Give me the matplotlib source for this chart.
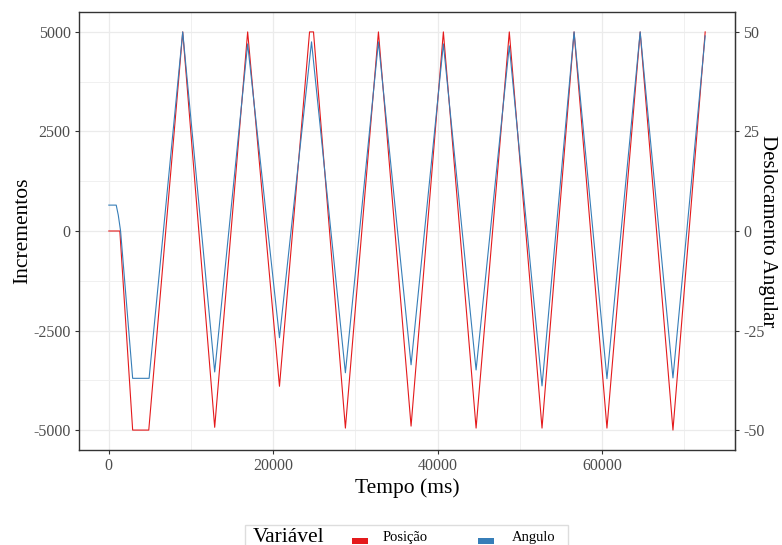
import matplotlib.pyplot as plt
from matplotlib.patches import Rectangle
from matplotlib.ticker import MultipleLocator

# tempo (ms) e valores
t_pos = [0, 1340, 2900, 4860, 8990, 12880, 16890, 20760, 24420, 24900, 28780,
         32800, 36770, 40700, 44680, 48720, 52700, 56600, 60600, 64640, 68630, 72550]
posicao = [0, 0, -5000, -5000, 5000, -4930, 5000, -3900, 5000, 5000, -4950,
           5000, -4900, 5000, -4950, 5000, -4950, 5000, -4950, 5000, -5000, 5000]

t_ang = [0, 900, 1150, 1430, 2900, 4900, 8990, 12880, 16890, 20760, 24660, 28780,
         32800, 36770, 40700, 44680, 48720, 52700, 56600, 60600, 64640, 68630, 72550]
angulo = [650, 650, 400, 0, -3700, -3700, 5000, -3540, 4700, -2680, 4750, -3560,
          4750, -3360, 4700, -3490, 4650, -3890, 5000, -3710, 5000, -3690, 4900]

series = ['Posição', 'Angulo']
cores = ['#E41A1C', '#377EB8']
escala = 100  # incrementos por grau

plt.rcParams['font.family'] = ['Liberation Serif', 'DejaVu Serif']
plt.rcParams['axes.unicode_minus'] = False

fig = plt.figure(figsize=(7.82, 5.45), dpi=100)
ax = fig.add_axes([79/782, 1-450/545, (735-79)/782, (450-12)/545])

ax.plot(t_pos, posicao, color=cores[0], lw=0.8, zorder=3)
ax.plot(t_ang, angulo, color=cores[1], lw=0.8, zorder=4)

xmax = max(t_pos)
ax.set_xlim(-0.05*xmax, 1.05*xmax)
ax.set_ylim(-5500, 5500)

ax.xaxis.set_major_locator(MultipleLocator(20000))
ax.xaxis.set_minor_locator(MultipleLocator(10000))
ax.yaxis.set_major_locator(MultipleLocator(2500))
ax.yaxis.set_minor_locator(MultipleLocator(1250))
ax.grid(which='major', color='#EBEBEB', lw=0.9)
ax.grid(which='minor', color='#F0F0F0', lw=0.7)
ax.set_axisbelow(True)

for s in ax.spines.values():
    s.set_color('#333333')
    s.set_linewidth(1.0)

ax.tick_params(which='major', length=3, width=0.8, color='#333333',
               labelcolor='#4D4D4D', labelsize=11.5, pad=3)
ax.tick_params(which='minor', length=0)

ax.set_xlabel('Tempo (ms)', fontsize=15.5, labelpad=3)
ax.set_ylabel('Incrementos', fontsize=15.5, labelpad=1)

sec = ax.secondary_yaxis('right', functions=(lambda y: y/escala, lambda y: y*escala))
sec.yaxis.set_major_locator(MultipleLocator(25))
sec.tick_params(length=3, width=0.8, color='#333333', labelcolor='#4D4D4D',
                labelsize=11.5, pad=3)
sec.spines['right'].set_color('#333333')
sec.set_ylabel('Deslocamento Angular', fontsize=15, rotation=270, labelpad=9)

# legenda na parte de baixo
fig.add_artist(Rectangle((245/782, -0.05), (568-245)/782, 0.05 + (545-525)/545,
                         transform=fig.transFigure, facecolor='white',
                         edgecolor='#DDDDDD', lw=1.0))
fig.text(253/782, 1-537/545, 'Variável', fontsize=15.5, va='center', ha='left')
xs_key = [352, 478]
xs_txt = [383, 512]
for nome, cor, xk, xt in zip(series, cores, xs_key, xs_txt):
    fig.add_artist(Rectangle((xk/782, 1-544/545), 16/782, 6/545,
                             transform=fig.transFigure, facecolor=cor, edgecolor='none'))
    fig.text(xt/782, 1-537/545, nome, fontsize=10.5, va='center', ha='left')

fig.savefig('out.png', dpi=100)
